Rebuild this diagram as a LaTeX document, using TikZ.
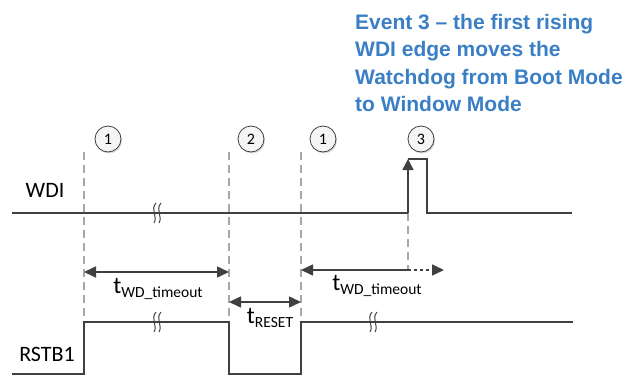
\documentclass[tikz,border=0pt]{standalone}
\usepackage{fontspec}
\setmainfont{Carlito}
\newfontfamily\titlefont{Liberation Sans}
\usetikzlibrary{arrows.meta,shadows}
\definecolor{sigline}{HTML}{404040}
\definecolor{guide}{HTML}{A8A8A8}
\definecolor{eventblue}{HTML}{3A7FC6}
\newcommand{\tlabel}[1]{{\fontsize{24}{24}\selectfont t}\raisebox{-3.5pt}{\fontsize{15.5}{15.5}\selectfont #1}}

\begin{document}
\begin{tikzpicture}[x=1pt,y=-1pt,
  signal/.style={draw=sigline,line width=1.6pt,line join=miter},
  guideline/.style={draw=guide,line width=1.3pt,dash pattern=on 8pt off 5pt},
  span/.style={draw=sigline,line width=1.6pt,{Triangle[length=12pt,width=11pt]}-{Triangle[length=12pt,width=11pt]}},
  event/.style={circle,draw=sigline,fill=gray!8,line width=0.8pt,minimum size=26pt,inner sep=0pt,
                font=\fontsize{16}{16}\selectfont,
                drop shadow={shadow xshift=1pt,shadow yshift=-1.5pt,opacity=0.3}},
  siglab/.style={font=\fontsize{22}{22}\selectfont,inner sep=0pt},
  spanlab/.style={inner sep=0pt}]
\useasboundingbox (0,0) rectangle (643,375);

% guide lines for the events
\coordinate (g1t) at (84,152);  \coordinate (g1b) at (84,322);
\coordinate (g2t) at (229,152); \coordinate (g2b) at (229,322);
\coordinate (g3t) at (301,152); \coordinate (g3b) at (301,322);
\coordinate (g4t) at (408,213); \coordinate (g4b) at (408,270);
\foreach \g in {1,...,4}
  \draw[guideline] (g\g t) -- (g\g b);

% event markers
\node[event] (ev1)  at (108,139) {1};
\node[event] (ev2)  at (251,139) {2};
\node[event] (ev1b) at (323,139) {1};
\node[event] (ev3)  at (421,139) {3};

% WDI
\node[siglab] (wdi) at (45,190) {WDI};
\coordinate (w0) at (12,213);  \coordinate (w1) at (408,213);
\coordinate (w2) at (408,159); \coordinate (w3) at (427,159);
\coordinate (w4) at (427,213); \coordinate (w5) at (572,213);
\draw[signal] (w0) -- (w1);
\draw[signal,-{Triangle[length=11pt,width=11pt]}] (w1) -- (w2);
\draw[signal] (w2) -- (w3) -- (w4) -- (w5);

% RSTB1
\node[siglab] (rstb) at (47,354) {RSTB1};
\coordinate (r0) at (12,374);  \coordinate (r1) at (84,374);
\coordinate (r2) at (84,322);  \coordinate (r3) at (229,322);
\coordinate (r4) at (229,374); \coordinate (r5) at (301,374);
\coordinate (r6) at (301,322); \coordinate (r7) at (573,322);
\draw[signal] (r0) -- (r1) -- (r2) -- (r3) -- (r4) -- (r5) -- (r6) -- (r7);

% break marks
\foreach \bx/\by in {157/213,157/322,373/322} {
  \draw[sigline,line width=1pt] (\bx-1,\by-10) .. controls (\bx-7,\by-3) and (\bx+1,\by+3) .. (\bx-3,\by+10);
  \draw[sigline,line width=1pt] (\bx+4,\by-10) .. controls (\bx-2,\by-3) and (\bx+6,\by+3) .. (\bx+2,\by+10);
}

% timing spans
\coordinate (a1) at (84,272);  \coordinate (a2) at (229,272);
\draw[span] (a1) -- (a2);
\node[spanlab] (ta) at (158,289) {\tlabel{WD\_timeout}};
\coordinate (b1) at (229,302); \coordinate (b2) at (301,302);
\draw[span] (b1) -- (b2);
\node[spanlab] (tb) at (270,318) {\tlabel{RESET}};
\coordinate (c1) at (301,270); \coordinate (c2) at (408,270); \coordinate (c3) at (444,270);
\draw[signal,{Triangle[length=12pt,width=11pt]}-] (c1) -- (c2);
\draw[signal,dash pattern=on 3pt off 3pt,-{Triangle[length=12pt,width=11pt]}] (c2) -- (c3);
\node[spanlab] (tc) at (377,286) {\tlabel{WD\_timeout}};

% event note
\node[anchor=north west,align=left,inner sep=0pt,text=eventblue,
      font=\titlefont\bfseries\fontsize{21}{27.5}\selectfont] (note) at (355,14)
     {Event 3 – the first rising\\WDI edge moves the\\Watchdog from Boot Mode\\to Window Mode};
\end{tikzpicture}
\end{document}
